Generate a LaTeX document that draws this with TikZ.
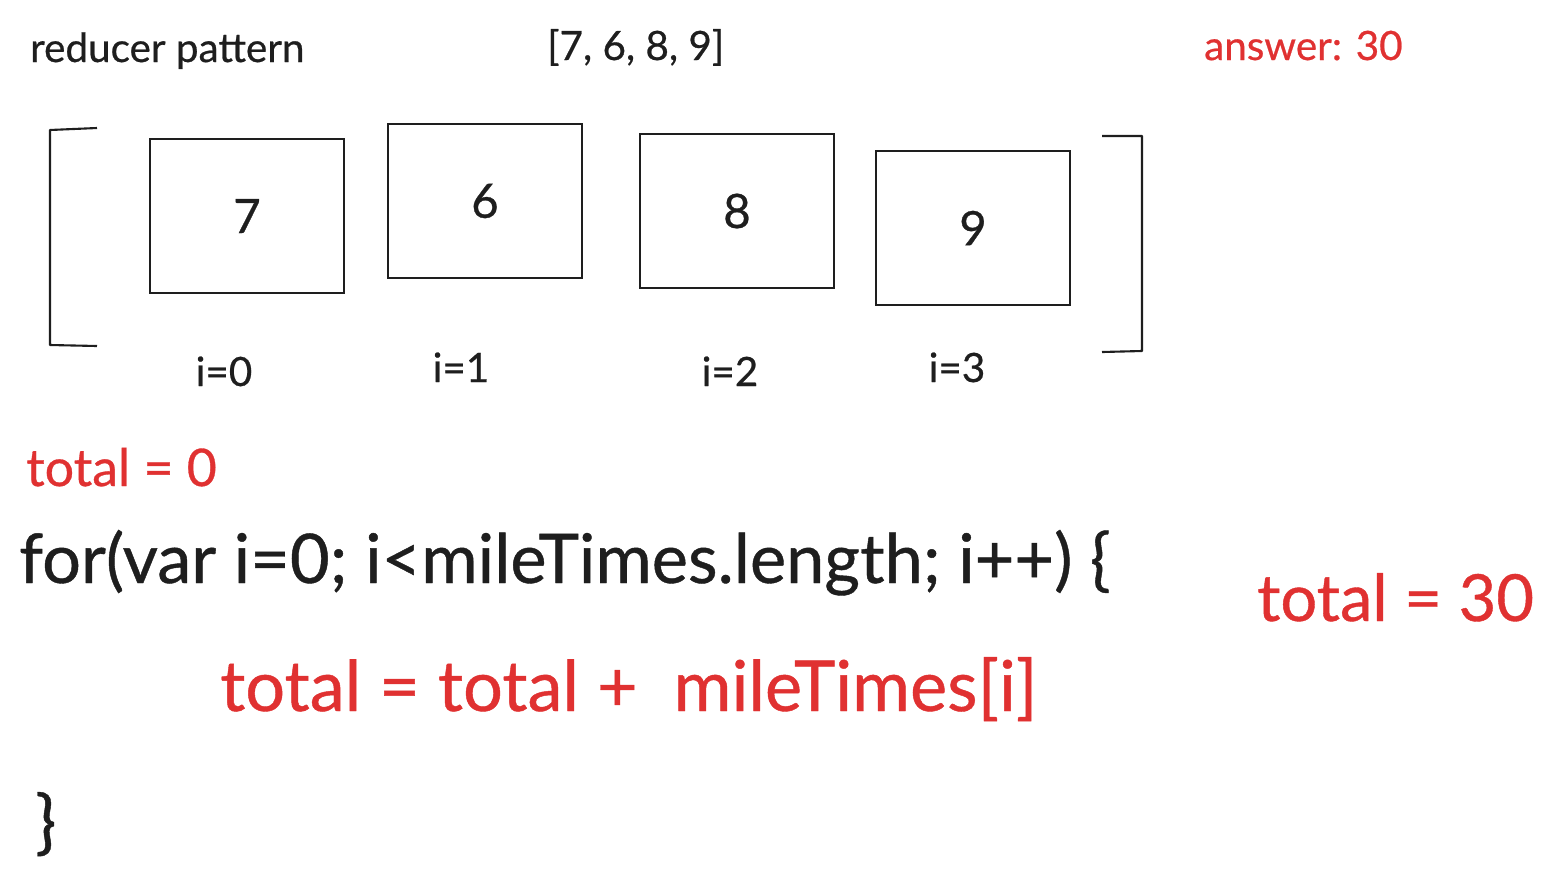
\documentclass[tikz,border=0pt]{standalone}
\usepackage{fontspec}
\setmainfont{Lato}
\usepackage{tikz}
\usetikzlibrary{positioning}
\definecolor{ink}{HTML}{1E1E1E}
\definecolor{inkred}{HTML}{E03131}
\newcommand{\heavy}{\addfontfeatures{FakeBold=0.6}}

\tikzset{
  cell/.style={draw=ink, line width=1.2pt, minimum width=3.88cm, minimum height=3.08cm,
    inner sep=0pt, font=\fontsize{27}{30}\selectfont\heavy, text=ink},
  idx/.style={anchor=base, font=\fontsize{23}{26}\selectfont\heavy, text=ink},
  note/.style={anchor=base west, font=\fontsize{23}{26}\selectfont\heavy, text=ink},
  code/.style={anchor=base west, font=\fontsize{40}{46}\selectfont\heavy, text=ink},
  bracket/.style={draw=ink, line width=1.2pt, line join=round}
}

\begin{document}
\begin{tikzpicture}[x=0.02cm, y=-0.02cm]
\useasboundingbox (0,0) rectangle (1552,880);

% headings
\node[note] (title) at (24,62) {reducer pattern};
\node[note] (arr) at (541,60) {[7, 6, 8, 9]};
\node[note, text=inkred] (ans) at (1198,60) {answer: 30};

% the array cells
\node[cell] (c0) at (247,216) {7};
\node[cell] (c1) at (485,201) {6};
\node[cell] (c2) at (737,211) {8};
\node[cell] (c3) at (973,228) {9};

% indices
\node[idx] (i0) at (224,386) {i=0};
\node[idx] (i1) at (461,382) {i=1};
\node[idx] (i2) at (730,386) {i=2};
\node[idx] (i3) at (957,382) {i=3};

% brackets round the array
\coordinate (lt) at (97,128);
\coordinate (lb) at (97,346);
\coordinate (rt) at (1102,136);
\coordinate (rb) at (1102,352);
\draw[bracket] (lt) -- (50,130) -- (50,345) -- (lb);
\draw[bracket] (rt) -- (1142,136) -- (1142,351) -- (rb);

% the loop
\node[note, text=inkred, font=\fontsize{29.5}{34}\selectfont\heavy] (tot0) at (20,486) {total = 0};
\node[code, font=\fontsize{39}{44}\selectfont\heavy] (loop) at (13,583) {for(var i=0; i<mileTimes.length; i++) \{};
\node[code, text=inkred] (body) at (214,711) {total = total +\ \ mileTimes[i]};
\node[code] (close) at (29,846) {\}};
\node[code, text=inkred, font=\fontsize{37}{40}\selectfont\heavy] (tot30) at (1251,621) {total = 30};
\end{tikzpicture}
\end{document}
